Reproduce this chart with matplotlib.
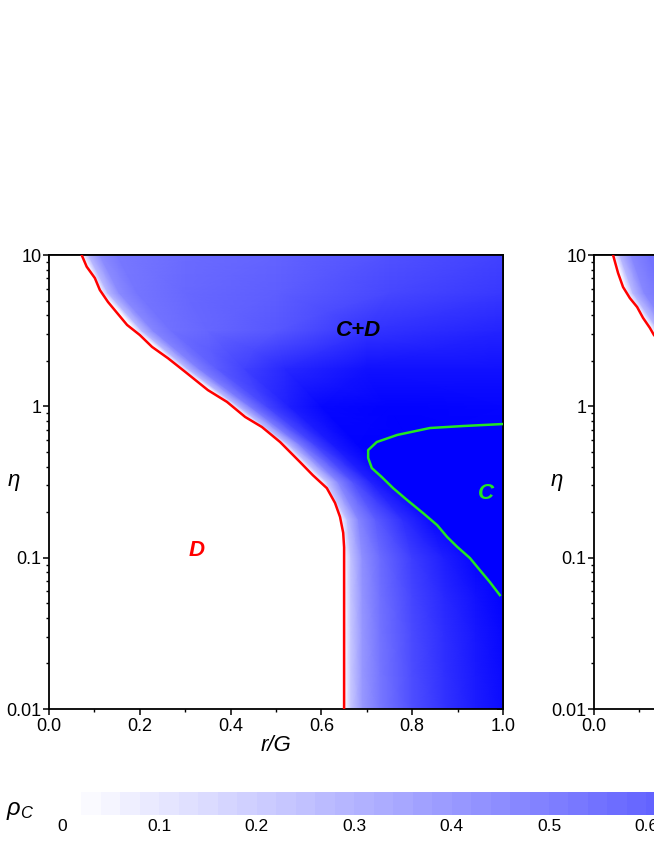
import numpy as np
import matplotlib
matplotlib.use("Agg")
import matplotlib.pyplot as plt
from matplotlib.colors import LinearSegmentedColormap, Normalize
from matplotlib.cm import ScalarMappable
from matplotlib.ticker import FixedLocator, NullFormatter, FixedFormatter

plt.rcParams['font.family'] = ['Liberation Sans', 'DejaVu Sans']
plt.rcParams['mathtext.fontset'] = 'custom'
plt.rcParams['mathtext.rm'] = 'Liberation Sans'
plt.rcParams['mathtext.it'] = 'Liberation Sans:italic'

# ---------------- data ----------------
# rho_C read along rows of constant eta; each row lists the r positions
# of its read-off points (starting at r = 0 and at the D boundary) and the values.
row_eta = [0.01, 0.0178, 0.0316, 0.0562, 0.1, 0.178, 0.316, 0.562,
           1.0, 1.78, 3.16, 5.62, 10.0]
row_r = [
    [0, 0.650, 0.665, 0.690, 0.730, 0.800, 0.870, 0.940, 1.0],
    [0, 0.650, 0.665, 0.690, 0.730, 0.800, 0.870, 0.940, 1.0],
    [0, 0.650, 0.665, 0.690, 0.730, 0.800, 0.870, 0.940, 1.0],
    [0, 0.650, 0.665, 0.690, 0.730, 0.800, 0.870, 0.940, 1.0],
    [0, 0.650, 0.665, 0.690, 0.730, 0.800, 0.870, 0.940, 1.0],
    [0, 0.642, 0.657, 0.682, 0.720, 0.780, 0.840, 0.900, 1.0],
    [0, 0.597, 0.612, 0.637, 0.670, 0.710, 0.760, 0.850, 1.0],
    [0, 0.512, 0.527, 0.552, 0.585, 0.625, 0.680, 0.800, 1.0],
    [0, 0.403, 0.418, 0.443, 0.480, 0.530, 0.600, 0.750, 1.0],
    [0, 0.289, 0.305, 0.330, 0.370, 0.430, 0.520, 0.700, 1.0],
    [0, 0.190, 0.205, 0.230, 0.270, 0.350, 0.500, 0.700, 1.0],
    [0, 0.115, 0.130, 0.155, 0.195, 0.300, 0.500, 0.750, 1.0],
    [0, 0.072, 0.087, 0.112, 0.150, 0.300, 0.500, 0.750, 1.0],
]
row_rho = [
    [0, 0, 0.22, 0.40, 0.53, 0.69, 0.80, 0.89, 0.95],
    [0, 0, 0.22, 0.41, 0.54, 0.70, 0.81, 0.90, 0.96],
    [0, 0, 0.22, 0.41, 0.55, 0.71, 0.82, 0.91, 0.97],
    [0, 0, 0.23, 0.42, 0.56, 0.73, 0.84, 0.93, 0.99],
    [0, 0, 0.24, 0.44, 0.58, 0.76, 0.88, 0.98, 1.0],
    [0, 0, 0.25, 0.48, 0.64, 0.82, 0.95, 1.0, 1.0],
    [0, 0, 0.22, 0.47, 0.68, 0.87, 0.98, 1.0, 1.0],
    [0, 0, 0.26, 0.52, 0.74, 0.90, 0.99, 1.0, 1.0],
    [0, 0, 0.28, 0.53, 0.73, 0.88, 0.97, 0.99, 0.98],
    [0, 0, 0.28, 0.50, 0.64, 0.74, 0.84, 0.93, 0.93],
    [0, 0, 0.28, 0.48, 0.56, 0.60, 0.66, 0.80, 0.86],
    [0, 0, 0.28, 0.46, 0.54, 0.59, 0.63, 0.72, 0.78],
    [0, 0, 0.28, 0.45, 0.53, 0.58, 0.61, 0.68, 0.74],
]

# D / C+D boundary (red), panel 1
red_r = [0.072, 0.083, 0.101, 0.112, 0.130, 0.150, 0.172, 0.200, 0.227, 0.262,
         0.300, 0.350, 0.392, 0.432, 0.469, 0.509, 0.553, 0.581, 0.612, 0.630,
         0.641, 0.648, 0.650, 0.650]
red_eta = [10.0, 8.37, 7.04, 5.87, 4.89, 4.14, 3.45, 2.96, 2.47, 2.08,
           1.69, 1.28, 1.07, 0.851, 0.730, 0.581, 0.428, 0.351, 0.288, 0.230,
           0.186, 0.146, 0.117, 0.01]

# C / C+D boundary (green), panel 1
green_r = [1.0, 0.912, 0.839, 0.767, 0.722, 0.703, 0.703, 0.711, 0.733, 0.758,
           0.789, 0.824, 0.855, 0.877, 0.899, 0.927, 0.949, 0.971, 0.993]
green_eta = [0.764, 0.741, 0.719, 0.647, 0.581, 0.514, 0.456, 0.391, 0.341, 0.288,
             0.240, 0.197, 0.164, 0.137, 0.118, 0.0995, 0.0828, 0.0690, 0.0566]

# panel 2 (only its left edge is visible)
row_eta2 = [0.01, 1.0, 1.78, 3.16, 5.62, 10.0]
row_r2 = [
    [0, 0.600, 0.620, 0.650, 0.700, 1.0],
    [0, 0.300, 0.315, 0.340, 0.380, 1.0],
    [0, 0.190, 0.205, 0.230, 0.270, 1.0],
    [0, 0.128, 0.143, 0.168, 0.210, 1.0],
    [0, 0.071, 0.086, 0.111, 0.150, 1.0],
    [0, 0.042, 0.057, 0.082, 0.120, 1.0],
]
row_rho2 = [
    [0, 0, 0, 0, 0, 0],
    [0, 0, 0.28, 0.47, 0.55, 0.62],
    [0, 0, 0.28, 0.47, 0.55, 0.62],
    [0, 0, 0.28, 0.47, 0.55, 0.62],
    [0, 0, 0.28, 0.47, 0.55, 0.62],
    [0, 0, 0.28, 0.47, 0.55, 0.62],
]
red2_r = [0.042, 0.053, 0.064, 0.079, 0.095, 0.108, 0.123, 0.132, 0.160, 0.200, 0.250]
red2_eta = [10.0, 7.6, 6.14, 5.19, 4.53, 3.84, 3.30, 2.96, 2.40, 1.90, 1.50]

y_ticks = [0.01, 0.1, 1, 10]
y_ticklabels = ['0.01', '0.1', '1', '10']
x_ticks = [0.0, 0.2, 0.4, 0.6, 0.8, 1.0]
x_ticklabels = ['0.0', '0.2', '0.4', '0.6', '0.8', '1.0']
cb_ticks = [0, 0.1, 0.2, 0.3, 0.4, 0.5, 0.6]
cb_ticklabels = ['0', '0.1', '0.2', '0.3', '0.4', '0.5', '0.6']

# ---------------- style ----------------
cmap = LinearSegmentedColormap.from_list('wb', ['#ffffff', '#0000ff'])
norm = Normalize(0, 1)
RED = '#ff0000'
GREEN = '#22e622'
TICK_FS = 13

W, H = 654, 846
fig = plt.figure(figsize=(W / 100, H / 100), dpi=100)


def px_axes(x0, y0, x1, y1):
    return fig.add_axes([x0 / W, 1 - y1 / H, (x1 - x0) / W, (y1 - y0) / H])


def style_axes(ax, xlabels, eta_x):
    ax.set_xlim(0, 1)
    ax.set_yscale('log')
    ax.set_ylim(0.01, 10)
    for s in ax.spines.values():
        s.set_linewidth(1.3)
    ax.xaxis.set_major_locator(FixedLocator(x_ticks))
    ax.xaxis.set_major_formatter(FixedFormatter(xlabels))
    ax.xaxis.set_minor_locator(FixedLocator([0.1, 0.3, 0.5, 0.7, 0.9]))
    ax.yaxis.set_major_locator(FixedLocator(y_ticks))
    ax.yaxis.set_major_formatter(FixedFormatter(y_ticklabels))
    minors = [m * 10.0 ** e for e in (-2, -1, 0) for m in range(2, 10)]
    ax.yaxis.set_minor_locator(FixedLocator(minors))
    ax.yaxis.set_minor_formatter(NullFormatter())
    ax.tick_params(which='major', direction='out', length=4.5, width=1.1,
                   labelsize=TICK_FS, top=False, right=False)
    ax.tick_params(axis='y', which='major', pad=1)
    ax.tick_params(axis='x', which='major', pad=2)
    ax.tick_params(which='minor', direction='out', length=2.5, width=1.0,
                   top=False, right=False)
    # mirrored inward ticks on top / right
    axt = ax.secondary_xaxis('top')
    axt.set_xticks([0.0, 0.1, 0.2, 0.3, 0.4, 0.5, 0.6, 0.7, 0.8, 0.9, 1.0])
    axt.tick_params(direction='in', length=4, width=1.1, labeltop=False)
    axt.spines['top'].set_linewidth(1.3)
    axr = ax.secondary_yaxis('right')
    axr.yaxis.set_major_locator(FixedLocator(y_ticks))
    axr.yaxis.set_minor_locator(FixedLocator(minors))
    axr.tick_params(which='major', direction='in', length=4, width=1.1, labelright=False)
    axr.tick_params(which='minor', direction='in', length=2.5, width=1.0, labelright=False)
    axr.yaxis.set_minor_formatter(NullFormatter())
    axr.spines['right'].set_linewidth(1.3)
    ax.set_ylabel(r'$\eta$', rotation=0, fontsize=16, va='center', ha='center')
    ax.yaxis.set_label_coords(eta_x, 0.5)


# ---------- panel 1 ----------
ax1 = px_axes(49, 255, 503, 709)
X1 = np.array(row_r)
Y1 = np.repeat(np.array(row_eta)[:, None], X1.shape[1], axis=1)
ax1.pcolormesh(X1, Y1, np.array(row_rho), shading='gouraud', cmap=cmap, norm=norm,
               zorder=1, rasterized=True)
# D region (rho_C = 0) left of the red boundary
ax1.fill(list(red_r) + [0.0, 0.0], list(red_eta) + [0.01, 10.0],
         color='white', lw=0, zorder=2)
# C region (rho_C = 1) inside the green boundary
ax1.fill(list(green_r) + [1.0], list(green_eta) + [0.0566],
         color=cmap(1.0), lw=0, zorder=2)
ax1.plot(red_r, red_eta, color=RED, lw=1.8, zorder=4)
ax1.plot(green_r, green_eta, color=GREEN, lw=1.8, zorder=4)
style_axes(ax1, x_ticklabels, -0.077)
ax1.set_xlabel('r/G', fontsize=16, fontstyle='italic')
ax1.xaxis.set_label_coords(0.5, -0.08)
ax1.xaxis.label.set_va('center')
ax1.text(0.681, 3.15, 'C+D', fontsize=16, fontweight='bold', fontstyle='italic',
         color='black', ha='center', va='center', zorder=5)
ax1.text(0.326, 0.111, 'D', fontsize=16, fontweight='bold', fontstyle='italic',
         color=RED, ha='center', va='center', zorder=5)
ax1.text(0.963, 0.264, 'C', fontsize=16, fontweight='bold', fontstyle='italic',
         color=GREEN, ha='center', va='center', zorder=5)

# ---------- panel 2 (cut at the figure edge) ----------
ax2 = px_axes(594, 255, 1048, 709)
X2 = np.array(row_r2)
Y2 = np.repeat(np.array(row_eta2)[:, None], X2.shape[1], axis=1)
ax2.pcolormesh(X2, Y2, np.array(row_rho2), shading='gouraud', cmap=cmap, norm=norm,
               zorder=1, rasterized=True)
ax2.fill(list(red2_r) + [0.25, 0.0, 0.0], list(red2_eta) + [0.01, 0.01, 10.0],
         color='white', lw=0, zorder=2)
ax2.plot(red2_r, red2_eta, color=RED, lw=1.8, zorder=4)
style_axes(ax2, ['0.0', '', '', '', '', ''], -0.083)

# ---------- colour bar ----------
cax = px_axes(62, 792, 62 + 974, 815)
cmap_steps = cmap.resampled(50)
cb = fig.colorbar(ScalarMappable(norm=norm, cmap=cmap_steps), cax=cax,
                  orientation='horizontal')
cb.outline.set_visible(False)
cb.set_ticks(cb_ticks)
cb.set_ticklabels(cb_ticklabels)
cax.tick_params(length=0, labelsize=12.5, pad=3)
fig.text(20 / W, 1 - 811 / H, r'$\rho_C$', fontsize=17, ha='center', va='center')

fig.savefig('out.png', dpi=100)
